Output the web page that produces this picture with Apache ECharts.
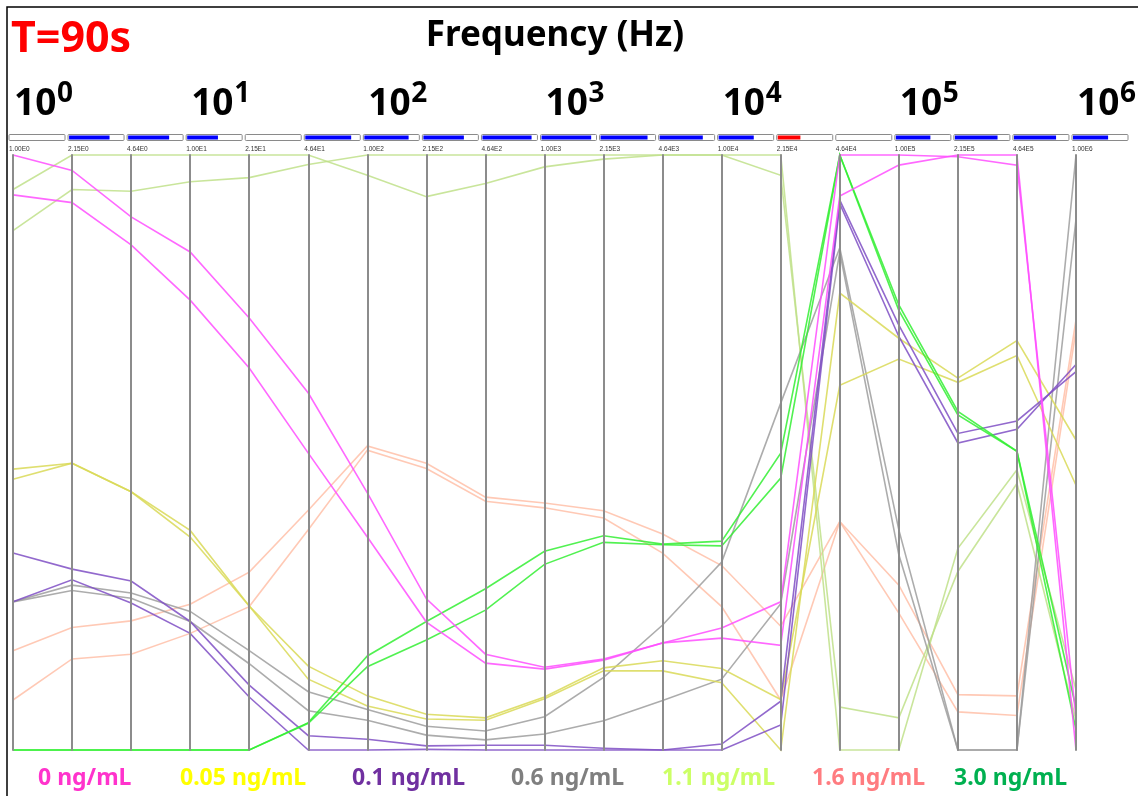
<!DOCTYPE html>
<html>
<head>
<meta charset="utf-8">
<script src="https://cdn.jsdelivr.net/npm/echarts@6/dist/echarts.min.js"></script>
<style>
  html, body { margin: 0; padding: 0; background: #fff; }
  #main { width: 1138px; height: 796px; }
</style>
</head>
<body>
<div id="main"></div>
<script>
// 频率轴标签 (1/3 decade)
const freqLabels = ['1.00E0', '2.15E0', '4.64E0', '1.00E1', '2.15E1', '4.64E1', '1.00E2',
  '2.15E2', '4.64E2', '1.00E3', '2.15E3', '4.64E3', '1.00E4', '2.15E4', '4.64E4',
  '1.00E5', '2.15E5', '4.64E5', '1.00E6']
// 每个轴上方小条的填充比例
const barFill = [0, 0.75, 0.76, 0.57, 0, 0.85, 0.82, 0.75, 0.91, 0.92, 0.87, 0.8, 0.65,
  0.42, 0, 0.64, 0.79, 0.78, 0.65]
const redBar = 13
const decades = ['0', '1', '2', '3', '4', '5', '6']

// 每个浓度两条曲线，数值为轴高度的百分比 (0 = 底, 100 = 顶)
const conc0 = [
  [100, 97.4, 89.6, 83.7, 72.6, 60.0, 43.2, 25.4, 16.1, 13.9, 15.3, 18.0, 20.5, 24.9, 100, 100, 99.7, 98.3, 5.4],
  [93.3, 92.0, 84.9, 75.6, 64.2, 49.9, 35.8, 21.5, 14.6, 13.6, 15.1, 18.0, 18.8, 17.6, 93.1, 98.3, 100, 100, 0]
]
const conc005 = [
  [47.2, 48.2, 43.4, 36.9, 24.2, 14.1, 9.1, 6.0, 5.4, 8.9, 13.8, 15.0, 13.7, 8.5, 61.3, 65.7, 61.8, 66.3, 44.5],
  [45.5, 48.2, 43.4, 35.8, 24.2, 11.9, 7.4, 5.2, 5.0, 8.6, 13.3, 13.3, 11.3, 0, 76.8, 69.2, 62.5, 68.8, 52.1]
]
const conc01 = [
  [33.1, 30.4, 28.4, 21.6, 10.9, 2.4, 1.8, 0.7, 0.8, 0.8, 0.3, 0, 1.0, 8.2, 92.4, 71.4, 53.2, 55.3, 63.6],
  [24.9, 28.6, 24.7, 19.6, 8.9, 0, 0, 0.1, 0, 0, 0, 0, 0, 4.2, 91.8, 69.5, 51.6, 53.9, 64.8]
]
const conc06 = [
  [24.9, 27.7, 26.4, 23.3, 16.7, 9.8, 6.8, 4.0, 3.2, 5.6, 12.2, 21.0, 31.6, 58.3, 84.4, 37.0, 0, 0, 100],
  [24.9, 26.8, 25.5, 21.6, 14.5, 6.6, 5.0, 2.5, 1.7, 2.7, 4.9, 8.3, 11.9, 24.6, 83.7, 32.8, 0, 0, 89.2]
]
const conc11 = [
  [87.3, 94.2, 93.9, 95.5, 96.2, 98.4, 100, 100, 100, 100, 100, 100, 100, 100, 0, 0, 33.9, 47.1, 10.1],
  [94.2, 100, 100, 100, 100, 100, 96.6, 93.0, 95.2, 98.0, 99.3, 100, 100, 96.6, 7.2, 5.4, 30.0, 44.8, 5.0]
]
const conc16 = [
  [16.7, 20.6, 21.7, 24.5, 29.9, 40.3, 51.1, 48.2, 42.5, 41.5, 40.2, 36.3, 31.0, 20.8, 38.4, 27.7, 9.3, 9.1, 72.3],
  [8.4, 15.3, 16.1, 19.6, 24.1, 37.0, 50.4, 47.3, 41.8, 40.7, 39.0, 33.1, 24.1, 8.4, 38.4, 23.0, 6.4, 5.8, 70.6]
]
const conc30 = [
  [0, 0, 0, 0, 0, 4.6, 15.8, 21.6, 27.1, 33.4, 36.0, 34.6, 35.1, 49.9, 100, 74.8, 56.9, 50.2, 7.1],
  [0, 0, 0, 0, 0, 4.5, 14.0, 18.5, 23.5, 31.2, 34.9, 34.5, 34.3, 45.7, 100, 73.9, 56.3, 50.2, 3.4]
]

const legendNames = ['0 ng/mL', '0.05 ng/mL', '0.1 ng/mL', '0.6 ng/mL', '1.1 ng/mL', '1.6 ng/mL', '3.0 ng/mL']
const legendColors = ['#ff33cc', '#ffff00', '#7030a0', '#7f7f7f', '#ccff66', '#ff7c80', '#00b050']
const legendX = [38, 180, 352, 511, 662, 812, 954]

// 绘制顺序: 后面的在上层
const seriesList = [
  {name: '1.6 ng/mL', data: conc16, color: '#ffbfa8'},
  {name: '1.1 ng/mL', data: conc11, color: '#bfe08a'},
  {name: '0.6 ng/mL', data: conc06, color: '#9e9e9e'},
  {name: '0.05 ng/mL', data: conc005, color: '#d9d957'},
  {name: '0.1 ng/mL', data: conc01, color: '#7f4fc4'},
  {name: '3.0 ng/mL', data: conc30, color: '#33ee33'},
  {name: '0 ng/mL', data: conc0, color: '#ff4dff'},
]

const W = 1138
const plotLeft = 13
const plotRight = 62
const plotTop = 155
const plotBottom = 46
const step = (W - plotLeft - plotRight) / (freqLabels.length - 1)
const axX = (i) => plotLeft + i * step

const graphics = []
// 外框
graphics.push({
  type: 'rect', silent: true,
  shape: {x: 7, y: 7, width: 1200, height: 900},
  style: {fill: 'none', stroke: '#000', lineWidth: 1.5},
})
graphics.push({
  type: 'text', x: 11, y: 40,
  style: {text: 'T=90s', fill: '#ff0000', font: 'bold 43px "Noto Sans"', verticalAlign: 'middle'},
})
graphics.push({
  type: 'text', x: 555, y: 36,
  style: {text: 'Frequency (Hz)', fill: '#000', font: 'bold 35px "Noto Sans"', align: 'center', verticalAlign: 'middle'},
})
decades.forEach((d, k) => {
  const x = axX(k * 3) + 1
  graphics.push({
    type: 'text', x: x, y: 104,
    style: {text: '10', fill: '#000', font: 'bold 37px "Noto Sans"', verticalAlign: 'middle'},
  })
  graphics.push({
    type: 'text', x: x + 43, y: 94,
    style: {text: d, fill: '#000', font: 'bold 28px "Noto Sans"', verticalAlign: 'middle'},
  })
})
// 每个轴上方的小条和标签
freqLabels.forEach((lab, i) => {
  const x = axX(i) - 4
  graphics.push({
    type: 'rect', silent: true,
    shape: {x: x, y: 134.5, width: 56, height: 6, r: 1},
    style: {fill: '#fff', stroke: '#8a8a8a', lineWidth: 1},
  })
  if (barFill[i] > 0) {
    graphics.push({
      type: 'rect', silent: true,
      shape: {x: x + 1, y: 135.5, width: 54 * barFill[i], height: 4},
      style: {fill: i === redBar ? '#ff0000' : '#0000ff'},
    })
  }
  graphics.push({
    type: 'text', x: x, y: 149,
    style: {text: lab, fill: '#333', font: '6.5px "Liberation Sans"', verticalAlign: 'middle'},
  })
})
legendNames.forEach((n, i) => {
  graphics.push({
    type: 'text', x: legendX[i], y: 778,
    style: {text: n, fill: legendColors[i], font: 'bold 23px "Noto Sans"', verticalAlign: 'middle'},
  })
})

const axisStyle = {
  type: 'value',
  min: 0,
  max: 100,
  axisLine: {show: true, lineStyle: {color: '#8c8c8c', width: 2}},
  axisTick: {show: false},
  axisLabel: {show: false, color: 'rgba(0,0,0,0)', formatter: () => ''},
  splitLine: {show: false},
}

const chart = echarts.init(document.getElementById('main'))
chart.setOption({
  backgroundColor: '#fff',
  animation: false,
  parallel: {
    left: plotLeft,
    right: plotRight,
    top: plotTop,
    bottom: plotBottom,
    parallelAxisDefault: axisStyle,
  },
  parallelAxis: freqLabels.map((lab, i) => Object.assign({dim: i}, axisStyle)),
  series: seriesList.map((s) => ({
    type: 'parallel',
    name: s.name,
    data: s.data,
    silent: true,
    lineStyle: {color: s.color, width: 1.6, opacity: 0.85},
  })),
  graphic: graphics,
})
</script>
</body>
</html>
